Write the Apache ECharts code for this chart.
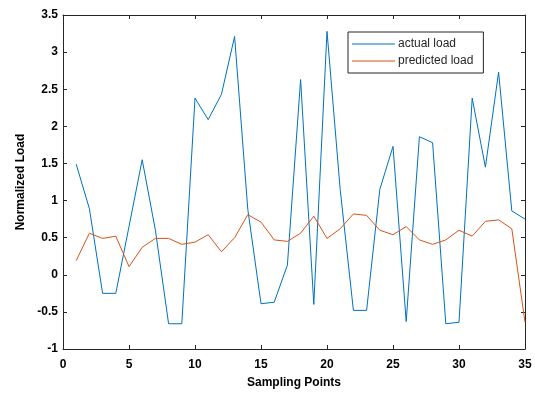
<!DOCTYPE html>
<html>
<head>
<meta charset="utf-8">
<script src="https://cdn.jsdelivr.net/npm/echarts@6/dist/echarts.min.js"></script>
<style>html,body{margin:0;padding:0;background:#fff;}#c{width:535px;height:394px;}</style>
</head>
<body>
<div id="c"></div>
<script>
var samplingPoints = [1,2,3,4,5,6,7,8,9,10,11,12,13,14,15,16,17,18,19,20,21,22,23,24,25,26,27,28,29,30,31,32,33,34,35];
var actualLoad = [1.49,0.89,-0.25,-0.25,0.65,1.55,0.6,-0.66,-0.66,2.38,2.09,2.43,3.21,0.88,-0.39,-0.37,0.13,2.63,-0.4,3.28,1.15,-0.48,-0.48,1.15,1.73,-0.63,1.86,1.78,-0.66,-0.64,2.38,1.45,2.73,0.86,0.75];
var predictedLoad = [0.19,0.56,0.49,0.52,0.11,0.37,0.49,0.49,0.41,0.44,0.54,0.31,0.5,0.81,0.71,0.47,0.45,0.56,0.79,0.49,0.62,0.82,0.8,0.6,0.54,0.65,0.47,0.41,0.47,0.6,0.52,0.72,0.74,0.62,-0.64];
var seriesNames = ['actual load','predicted load'];
var xTitle = 'Sampling Points';
var yTitle = 'Normalized Load';

function pairs(ys){ return samplingPoints.map(function(x,i){ return [x, ys[i]]; }); }

var chart = echarts.init(document.getElementById('c'), null, {renderer:'canvas'});
var axisLine = {show:true, onZero:false, lineStyle:{color:'#262626', width:1}};
var tick = {show:true, inside:true, length:4, lineStyle:{color:'#262626'}};
var lbl = {color:'#000', fontFamily:'Liberation Sans, Arial, sans-serif', fontSize:12, fontWeight:'bold'};
chart.setOption({
  animation:false,
  backgroundColor:'#fff',
  grid:{left:63, right:10, top:15, bottom:44, containLabel:false},
  legend:{
    orient:'vertical', left:348, top:32, width:135,
    data:seriesNames,
    icon:'path://M0,0H43V1H0Z',
    backgroundColor:'#fff', borderColor:'#262626', borderWidth:1,
    padding:[6,10,6,4], itemGap:5, itemWidth:43, itemHeight:1,
    textStyle:{color:'#262626', fontFamily:'Liberation Sans, Arial, sans-serif', fontSize:12, padding:[0,0,0,-2]}
  },
  xAxis:[
    {type:'value', min:0, max:35, interval:5, position:'bottom',
     name:xTitle, nameLocation:'middle', nameGap:28,
     nameTextStyle:{color:'#000', fontFamily:'Liberation Sans, Arial, sans-serif', fontSize:12, fontWeight:'bold'},
     axisLine:axisLine, axisTick:tick, splitLine:{show:false}, axisLabel:Object.assign({margin:10}, lbl)},
    {type:'value', min:0, max:35, interval:5, position:'top',
     axisLine:axisLine, axisTick:tick, splitLine:{show:false}, axisLabel:{show:false}}
  ],
  yAxis:[
    {type:'value', min:-1, max:3.5, interval:0.5, position:'left',
     name:yTitle, nameLocation:'middle', nameGap:32, nameRotate:90,
     nameTextStyle:{color:'#000', fontFamily:'Liberation Sans, Arial, sans-serif', fontSize:12, fontWeight:'bold'},
     axisLine:axisLine, axisTick:tick, splitLine:{show:false}, axisLabel:Object.assign({margin:5}, lbl)},
    {type:'value', min:-1, max:3.5, interval:0.5, position:'right',
     axisLine:axisLine, axisTick:tick, splitLine:{show:false}, axisLabel:{show:false}}
  ],
  series:[
    {name:seriesNames[0], type:'line', data:pairs(actualLoad), symbol:'none', lineStyle:{color:'#0072BD', width:1}, itemStyle:{color:'#0072BD'}},
    {name:seriesNames[1], type:'line', data:pairs(predictedLoad), symbol:'none', lineStyle:{color:'#D95319', width:1}, itemStyle:{color:'#D95319'}}
  ]
});
</script>
</body>
</html>
